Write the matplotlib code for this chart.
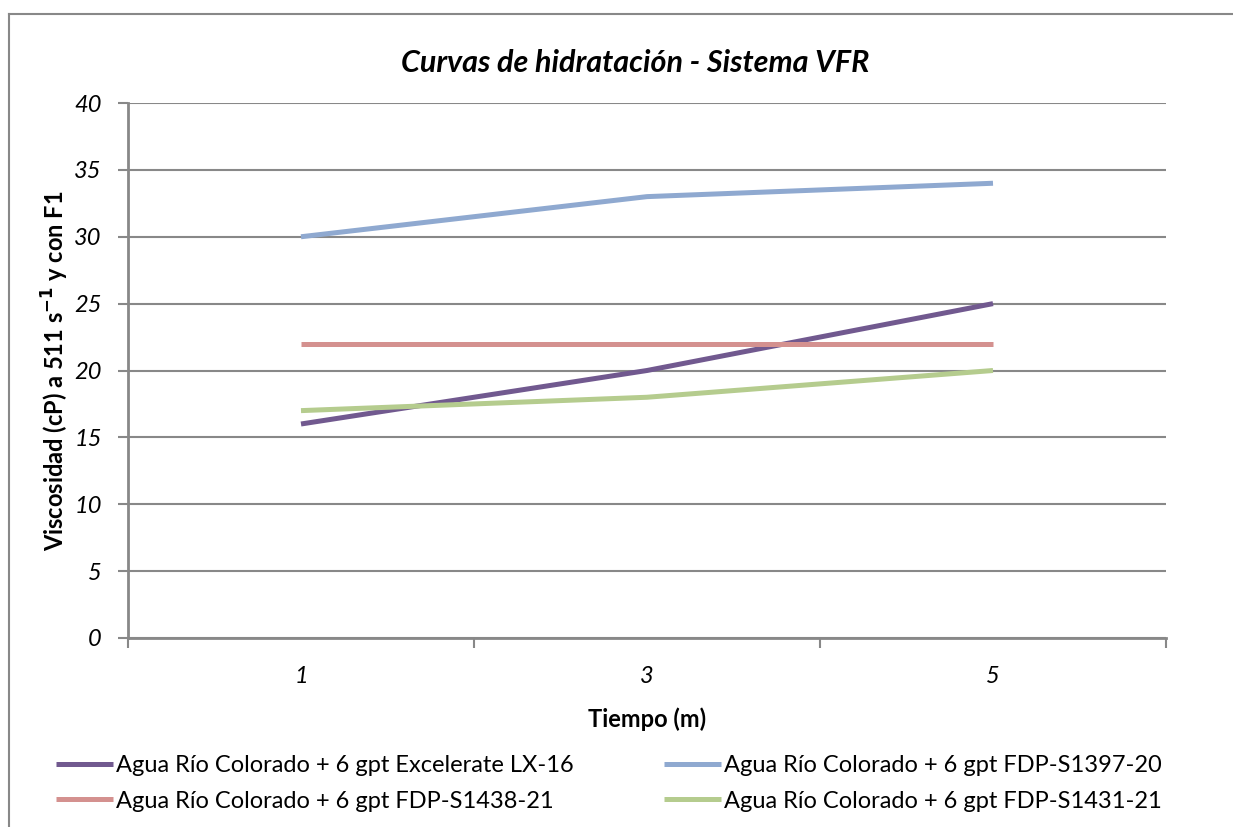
import matplotlib.pyplot as plt
from matplotlib.lines import Line2D

plt.rcParams['font.family'] = ['Lato', 'DejaVu Sans']

tiempos = ['1', '3', '5']
series = [
    'Agua Río Colorado + 6 gpt Excelerate LX-16',
    'Agua Río Colorado + 6 gpt FDP-S1397-20',
    'Agua Río Colorado + 6 gpt FDP-S1438-21',
    'Agua Río Colorado + 6 gpt FDP-S1431-21',
]
lx16 = [16, 20, 25]
s1397 = [30, 33, 34]
s1438 = [22, 22, 22]
s1431 = [17, 18, 20]
colores = ['#71598F', '#8FA9D0', '#D4918F', '#B5CC8E']

fig = plt.figure(figsize=(12.33, 8.27), dpi=100)
ax = fig.add_axes([128 / 1233, 1 - 638 / 827, 1038 / 1233, 535 / 827])

# outer chart frame: only the top and left edges fall inside the image
borde_x = 8.5 / 1233
borde_y = 1 - 13.5 / 827
fig.add_artist(Line2D([borde_x, 1], [borde_y, borde_y], transform=fig.transFigure,
                      color='#888888', linewidth=1.5))
fig.add_artist(Line2D([borde_x, borde_x], [0, borde_y], transform=fig.transFigure,
                      color='#888888', linewidth=1.5))

x = range(len(tiempos))
lineas = []
for valores, nombre, color in zip([lx16, s1397, s1438, s1431], series, colores):
    ln, = ax.plot(x, valores, color=color, linewidth=3.6, label=nombre,
                  solid_capstyle='butt', zorder=3)
    lineas.append(ln)

ax.set_xlim(-0.5, 2.5)
ax.set_ylim(0, 40)
ax.set_yticks(range(0, 41, 5))
ax.set_xticks([-0.5, 0.5, 1.5, 2.5])
ax.set_xticklabels([])
ax.set_xticks(list(x), minor=True)
ax.set_xticklabels(tiempos, minor=True)
ax.tick_params(axis='x', which='minor', length=0, pad=20, labelsize=17)
ax.tick_params(axis='x', which='major', length=7, width=1.5, color='#888888', direction='out')
ax.tick_params(axis='y', length=7, width=1.5, color='#888888', direction='out',
               labelsize=17, pad=12)
for lab in ax.get_xticklabels(minor=True) + ax.get_yticklabels():
    lab.set_fontstyle('italic')

ax.grid(axis='y', color='#888888', linewidth=1.5)
ax.set_axisbelow(True)
for lado in ['top', 'right']:
    ax.spines[lado].set_visible(False)
for lado in ['left', 'bottom']:
    ax.spines[lado].set_color('#888888')
    ax.spines[lado].set_linewidth(2)

ax.set_title('Curvas de hidratación - Sistema VFR', fontsize=22, fontweight='bold',
             fontstyle='italic', pad=22, x=0.489)
ax.set_xlabel('Tiempo (m)', fontsize=17, fontweight='bold', labelpad=15)
ax.set_ylabel('Viscosidad (cP) a 511 s$^{\\mathbf{-1}}$ y con F1', fontsize=17,
              fontweight='bold', labelpad=2)

# legend fills row by row: LX-16, S1397 / S1438, S1431
orden = [0, 2, 1, 3]
fig.legend(handles=[lineas[i] for i in orden], loc='lower left',
           bbox_to_anchor=(35 / 1233, -0.007), ncol=2, frameon=False, fontsize=17,
           handlelength=2.4, handletextpad=0.15, columnspacing=3.8, labelspacing=0.62)

fig.savefig('out.png', dpi=100)
